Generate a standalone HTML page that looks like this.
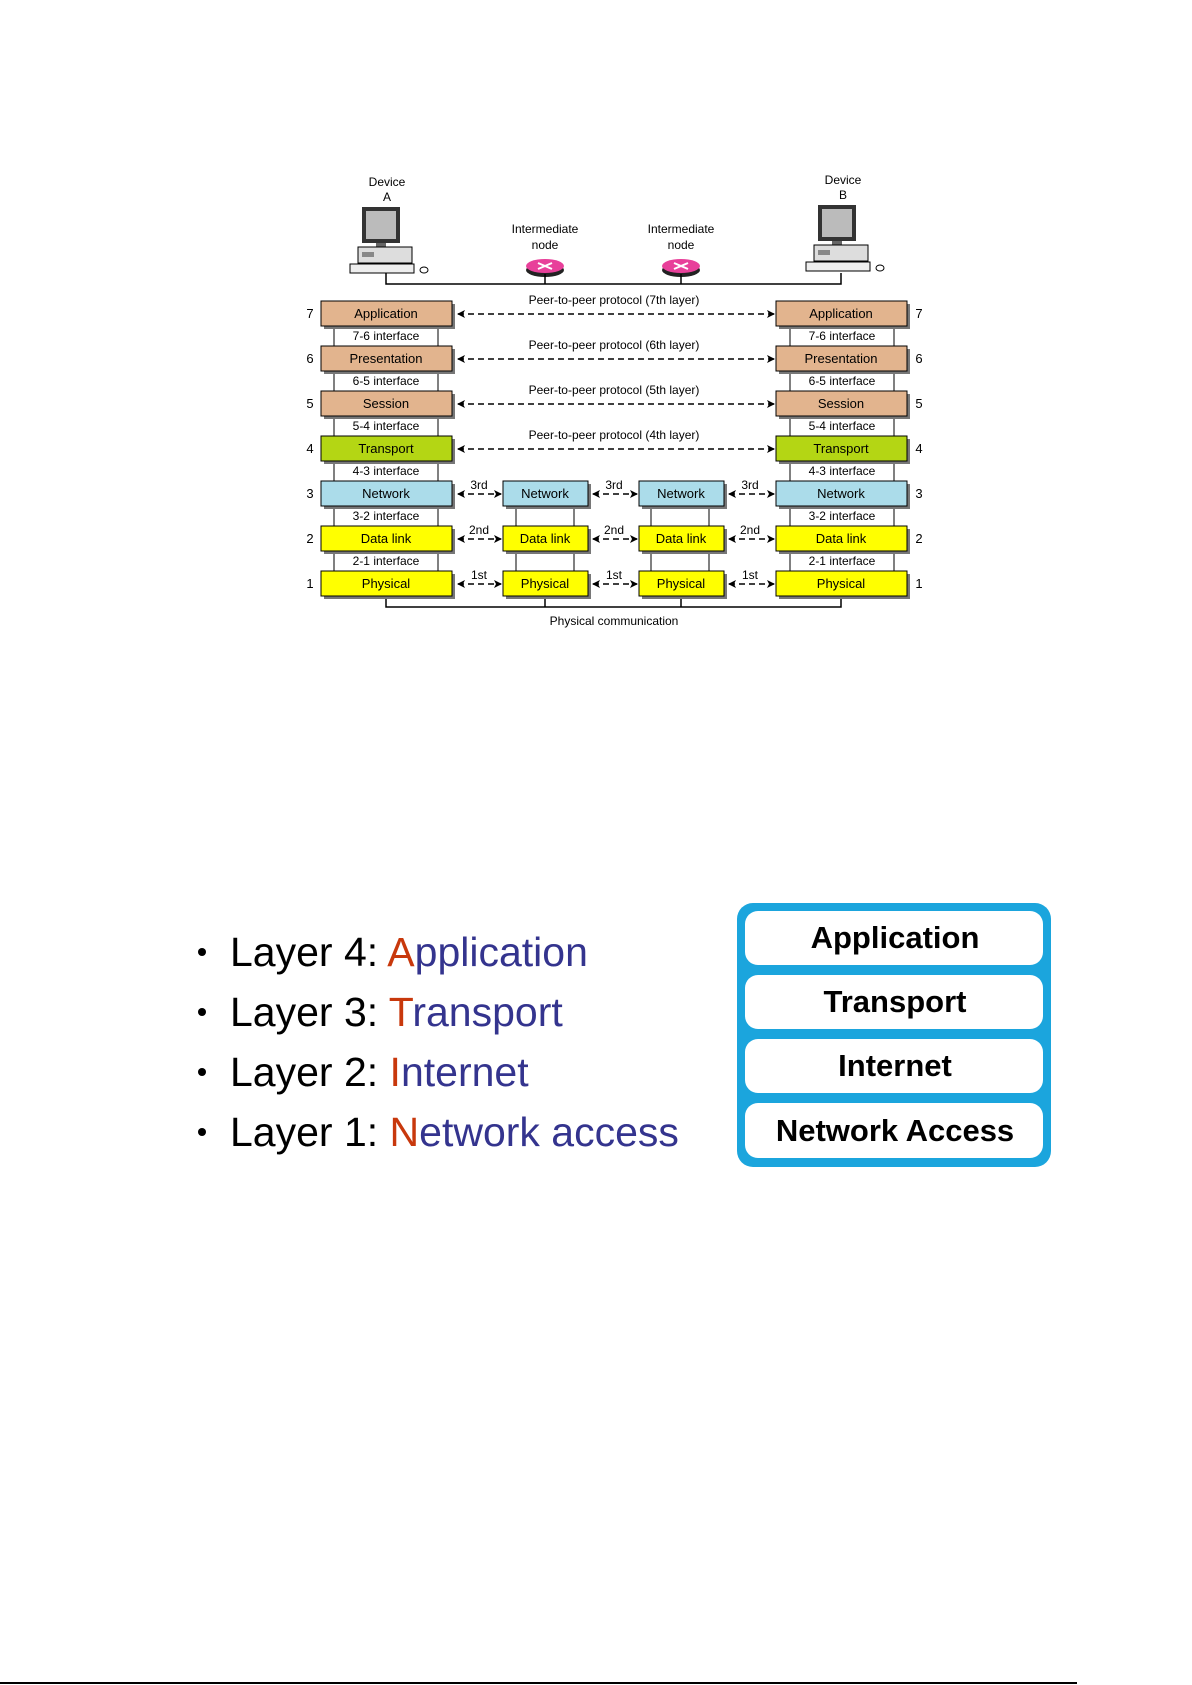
<!DOCTYPE html>
<html><head><meta charset="utf-8"><style>
html,body{margin:0;padding:0;background:#fff;}
svg{display:block;}
</style></head><body>
<svg width="1192" height="1685" viewBox="0 0 1192 1685" xmlns="http://www.w3.org/2000/svg" font-family="Liberation Sans, sans-serif">
<defs>
<marker id="ah" markerWidth="8" markerHeight="8" refX="7" refY="4" orient="auto-start-reverse" markerUnits="userSpaceOnUse"><path d="M0,0 L8,4 L0,8 L2,4 Z" fill="#000"/></marker>
<g id="pc">
  <rect x="12" y="0" width="38" height="36" fill="#333"/>
  <rect x="16" y="4" width="30" height="28" fill="#bbb"/>
  <rect x="26" y="36" width="10" height="4" fill="#666"/>
  <rect x="8" y="40" width="54" height="16" fill="#ddd" stroke="#000"/>
  <rect x="12" y="45" width="12" height="5" fill="#888"/>
  <rect x="0" y="57" width="64" height="9" fill="#eee" stroke="#000"/>
  <ellipse cx="74" cy="63" rx="4" ry="3" fill="#fff" stroke="#000"/>
</g>
<g id="rt">
  <ellipse cx="0" cy="4" rx="19" ry="7" fill="#222"/>
  <ellipse cx="0" cy="0" rx="19" ry="7" fill="#e8409a"/>
  <path d="M-7,-3 L7,3 M-7,3 L7,-3" stroke="#fff" stroke-width="2"/>
</g>
</defs>

<!-- devices -->
<g font-size="12" text-anchor="middle" fill="#000">
<text x="387" y="186">Device</text><text x="387" y="201">A</text>
<text x="843" y="184">Device</text><text x="843" y="199">B</text>
<text x="545" y="233">Intermediate</text><text x="545" y="249">node</text>
<text x="681" y="233">Intermediate</text><text x="681" y="249">node</text>
</g>
<use href="#pc" x="350" y="207"/>
<use href="#pc" x="806" y="205"/>
<use href="#rt" x="545" y="266"/>
<use href="#rt" x="681" y="266"/>
<path d="M386,273 V284 H841 V273 M545,274 V284 M681,274 V284" stroke="#000" stroke-width="1.5" fill="none"/>

<!-- interface boxes and middle connectors -->
<g fill="#fff" stroke="#000" stroke-width="1">
<rect x="334" y="326" width="104" height="20"/><rect x="334" y="371" width="104" height="20"/>
<rect x="334" y="416" width="104" height="20"/><rect x="334" y="461" width="104" height="20"/>
<rect x="334" y="506" width="104" height="20"/><rect x="334" y="551" width="104" height="20"/>
<rect x="790" y="326" width="104" height="20"/><rect x="790" y="371" width="104" height="20"/>
<rect x="790" y="416" width="104" height="20"/><rect x="790" y="461" width="104" height="20"/>
<rect x="790" y="506" width="104" height="20"/><rect x="790" y="551" width="104" height="20"/>
<rect x="516" y="506" width="58" height="65"/><rect x="651" y="506" width="58" height="65"/>
</g>
<g font-size="12" text-anchor="middle">
<text x="386" y="340">7-6 interface</text><text x="386" y="385">6-5 interface</text>
<text x="386" y="430">5-4 interface</text><text x="386" y="475">4-3 interface</text>
<text x="386" y="520">3-2 interface</text><text x="386" y="565">2-1 interface</text>
<text x="842" y="340">7-6 interface</text><text x="842" y="385">6-5 interface</text>
<text x="842" y="430">5-4 interface</text><text x="842" y="475">4-3 interface</text>
<text x="842" y="520">3-2 interface</text><text x="842" y="565">2-1 interface</text>
</g>

<!-- bottom physical line -->
<path d="M386,596 V607 H841 V596 M545,596 V607 M681,596 V607" stroke="#000" stroke-width="1.5" fill="none"/>
<text x="614" y="625" font-size="12" text-anchor="middle">Physical communication</text>

<!-- layer boxes -->
<g stroke="#000" stroke-width="1">
<g fill="#777" stroke="none">
<rect x="324" y="304" width="131" height="25"/><rect x="324" y="349" width="131" height="25"/><rect x="324" y="394" width="131" height="25"/><rect x="324" y="439" width="131" height="25"/><rect x="324" y="484" width="131" height="25"/><rect x="324" y="529" width="131" height="25"/><rect x="324" y="574" width="131" height="25"/>
<rect x="779" y="304" width="131" height="25"/><rect x="779" y="349" width="131" height="25"/><rect x="779" y="394" width="131" height="25"/><rect x="779" y="439" width="131" height="25"/><rect x="779" y="484" width="131" height="25"/><rect x="779" y="529" width="131" height="25"/><rect x="779" y="574" width="131" height="25"/>
<rect x="506" y="484" width="85" height="25"/><rect x="506" y="529" width="85" height="25"/><rect x="506" y="574" width="85" height="25"/>
<rect x="642" y="484" width="85" height="25"/><rect x="642" y="529" width="85" height="25"/><rect x="642" y="574" width="85" height="25"/>
</g>
<rect x="321" y="301" width="131" height="25" fill="#e2b48e"/><rect x="776" y="301" width="131" height="25" fill="#e2b48e"/>
<rect x="321" y="346" width="131" height="25" fill="#e2b48e"/><rect x="776" y="346" width="131" height="25" fill="#e2b48e"/>
<rect x="321" y="391" width="131" height="25" fill="#e2b48e"/><rect x="776" y="391" width="131" height="25" fill="#e2b48e"/>
<rect x="321" y="436" width="131" height="25" fill="#b4d614"/><rect x="776" y="436" width="131" height="25" fill="#b4d614"/>
<rect x="321" y="481" width="131" height="25" fill="#abdcea"/><rect x="776" y="481" width="131" height="25" fill="#abdcea"/>
<rect x="503" y="481" width="85" height="25" fill="#abdcea"/><rect x="639" y="481" width="85" height="25" fill="#abdcea"/>
<rect x="321" y="526" width="131" height="25" fill="#ffff00"/><rect x="776" y="526" width="131" height="25" fill="#ffff00"/>
<rect x="503" y="526" width="85" height="25" fill="#ffff00"/><rect x="639" y="526" width="85" height="25" fill="#ffff00"/>
<rect x="321" y="571" width="131" height="25" fill="#ffff00"/><rect x="776" y="571" width="131" height="25" fill="#ffff00"/>
<rect x="503" y="571" width="85" height="25" fill="#ffff00"/><rect x="639" y="571" width="85" height="25" fill="#ffff00"/>
</g>
<g font-size="13" text-anchor="middle">
<text x="386" y="318">Application</text><text x="841" y="318">Application</text>
<text x="386" y="363">Presentation</text><text x="841" y="363">Presentation</text>
<text x="386" y="408">Session</text><text x="841" y="408">Session</text>
<text x="386" y="453">Transport</text><text x="841" y="453">Transport</text>
<text x="386" y="498">Network</text><text x="841" y="498">Network</text><text x="545" y="498">Network</text><text x="681" y="498">Network</text>
<text x="386" y="543">Data link</text><text x="841" y="543">Data link</text><text x="545" y="543">Data link</text><text x="681" y="543">Data link</text>
<text x="386" y="588">Physical</text><text x="841" y="588">Physical</text><text x="545" y="588">Physical</text><text x="681" y="588">Physical</text>
</g>
<g font-size="13" text-anchor="middle">
<text x="310" y="318">7</text><text x="310" y="363">6</text><text x="310" y="408">5</text><text x="310" y="453">4</text><text x="310" y="498">3</text><text x="310" y="543">2</text><text x="310" y="588">1</text>
<text x="919" y="318">7</text><text x="919" y="363">6</text><text x="919" y="408">5</text><text x="919" y="453">4</text><text x="919" y="498">3</text><text x="919" y="543">2</text><text x="919" y="588">1</text>
</g>

<!-- arrows -->
<g stroke="#000" stroke-width="1.6" stroke-dasharray="6,4" fill="none" marker-start="url(#ah)" marker-end="url(#ah)">
<line x1="458" y1="314" x2="774" y2="314"/><line x1="458" y1="359" x2="774" y2="359"/>
<line x1="458" y1="404" x2="774" y2="404"/><line x1="458" y1="449" x2="774" y2="449"/>
<line x1="458" y1="494" x2="501" y2="494"/><line x1="593" y1="494" x2="637" y2="494"/><line x1="729" y1="494" x2="774" y2="494"/>
<line x1="458" y1="539" x2="501" y2="539"/><line x1="593" y1="539" x2="637" y2="539"/><line x1="729" y1="539" x2="774" y2="539"/>
<line x1="458" y1="584" x2="501" y2="584"/><line x1="593" y1="584" x2="637" y2="584"/><line x1="729" y1="584" x2="774" y2="584"/>
</g>
<g font-size="12" text-anchor="middle">
<text x="614" y="304">Peer-to-peer protocol (7th layer)</text>
<text x="614" y="349">Peer-to-peer protocol (6th layer)</text>
<text x="614" y="394">Peer-to-peer protocol (5th layer)</text>
<text x="614" y="439">Peer-to-peer protocol (4th layer)</text>
<text x="479" y="489">3rd</text><text x="614" y="489">3rd</text><text x="750" y="489">3rd</text>
<text x="479" y="534">2nd</text><text x="614" y="534">2nd</text><text x="750" y="534">2nd</text>
<text x="479" y="579">1st</text><text x="614" y="579">1st</text><text x="750" y="579">1st</text>
</g>

<!-- bullets -->
<g font-size="41" fill="#000">
<circle cx="202" cy="952" r="4"/><circle cx="202" cy="1012" r="4"/><circle cx="202" cy="1072" r="4"/><circle cx="202" cy="1132" r="4"/>
<text x="230" y="966">Layer 4: <tspan fill="#c8380c">A</tspan><tspan fill="#34348e">pplication</tspan></text>
<text x="230" y="1026">Layer 3: <tspan fill="#c8380c">T</tspan><tspan fill="#34348e">ransport</tspan></text>
<text x="230" y="1086">Layer 2: <tspan fill="#c8380c">I</tspan><tspan fill="#34348e">nternet</tspan></text>
<text x="230" y="1146">Layer 1: <tspan fill="#c8380c">N</tspan><tspan fill="#34348e">etwork access</tspan></text>
</g>

<!-- TCP/IP stack -->
<rect x="737" y="903" width="314" height="264" rx="16" fill="#1ba5dd"/>
<g fill="#fff">
<rect x="745" y="911" width="298" height="54" rx="13"/>
<rect x="745" y="975" width="298" height="54" rx="13"/>
<rect x="745" y="1039" width="298" height="54" rx="13"/>
<rect x="745" y="1103" width="298" height="55" rx="13"/>
</g>
<g font-size="31" font-weight="bold" text-anchor="middle" fill="#000">
<text x="895" y="948">Application</text>
<text x="895" y="1012">Transport</text>
<text x="895" y="1076">Internet</text>
<text x="895" y="1141">Network Access</text>
</g>

<line x1="0" y1="1683" x2="1077" y2="1683" stroke="#000" stroke-width="2"/>
</svg>
</body></html>
